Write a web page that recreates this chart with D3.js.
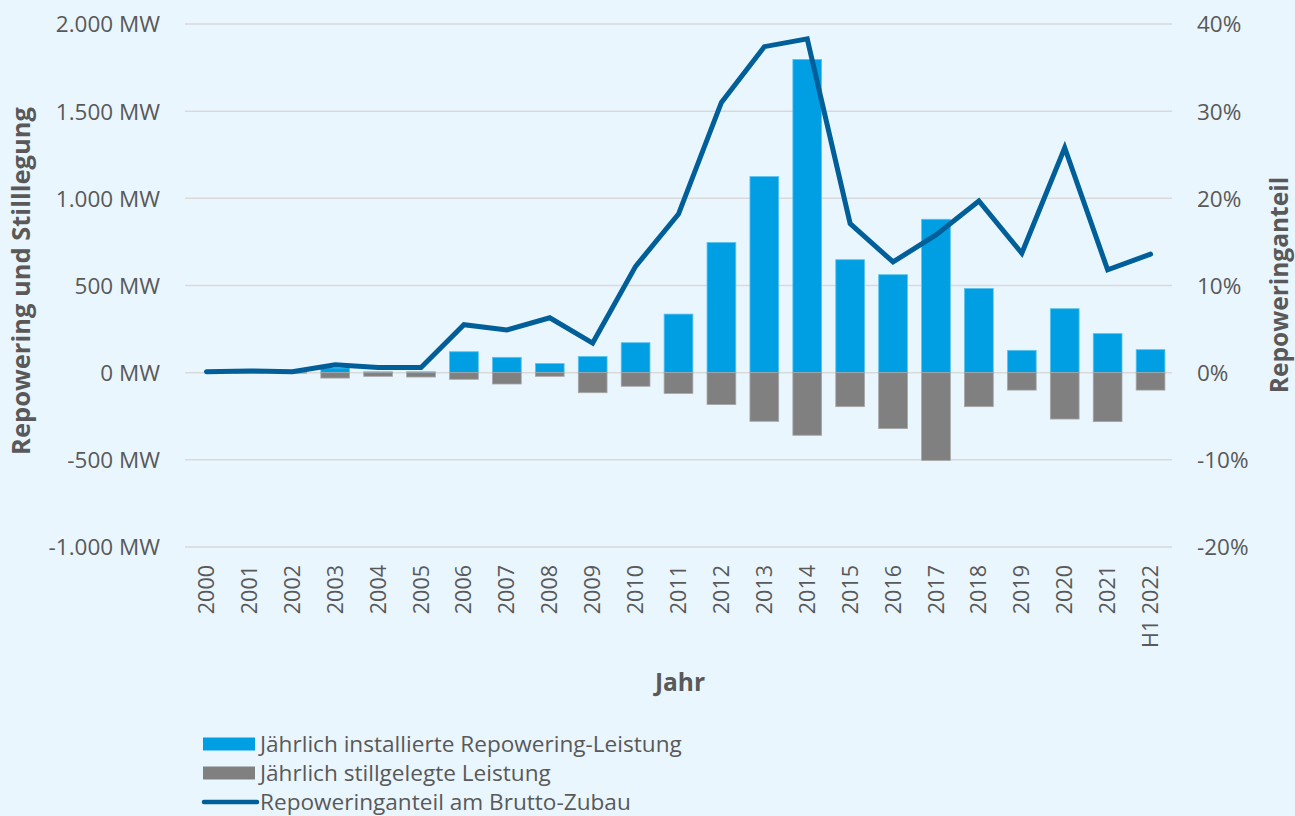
<!DOCTYPE html>
<html><head><meta charset="utf-8">
<script src="https://cdn.jsdelivr.net/npm/d3@7"></script>
<style>
html,body{margin:0;padding:0;background:#eaf6fe;}
svg{display:block;font-family:"Open Sans","Noto Sans",sans-serif;}
</style></head><body>
<svg id="c" width="1295" height="816"></svg>
<script>
const categories = ["2000","2001","2002","2003","2004","2005","2006","2007","2008","2009","2010","2011","2012","2013","2014","2015","2016","2017","2018","2019","2020","2021","H1 2022"];
const repowering = [0,0,0,27,5,5,120,88,52,93,172,336,747,1125,1797,648,562,880,483,128,367,224,132];
const decommissioned = [0,-3,-3,-31,-21,-25,-38,-65,-21,-115,-78,-119,-183,-279,-359,-195,-321,-503,-195,-100,-266,-281,-100];
const share = [0.1,0.2,0.1,0.9,0.6,0.6,5.5,4.9,6.3,3.4,12.2,18.2,31.0,37.4,38.3,17.1,12.7,15.8,19.7,13.7,25.8,11.8,13.6];
const leftTicks = [2000,1500,1000,500,0,-500,-1000];
const rightTicks = [40,30,20,10,0,-10,-20];

const svg = d3.select("#c");
const L = 185, R = 1172, T = 24, B = 547;
const x = d3.scaleBand().domain(categories).range([L, R]).paddingInner(0.33).paddingOuter(0.165);
const xc = d3.scaleBand().domain(categories).range([L, R]);
const y = d3.scaleLinear().domain([-1000, 2000]).range([B, T]);
const y2 = d3.scaleLinear().domain([-20, 40]).range([B, T]);
const txt = "#595959";
const fmt = v => d3.format(",")(v).replace(/,/g, ".").replace("\u2212", "-") + " MW";

// grid
svg.append("g").selectAll("line").data(leftTicks).join("line")
  .attr("x1", L).attr("x2", R).attr("y1", d => y(d)).attr("y2", d => y(d))
  .attr("stroke", "#d9d9d9").attr("stroke-width", 1.5);

// left axis
const ya = d3.axisLeft(y).tickValues(leftTicks).tickSize(0).tickPadding(0).tickFormat(fmt);
svg.append("g").attr("transform", `translate(160,0)`).call(ya)
  .call(g => g.select(".domain").remove())
  .selectAll("text").attr("fill", txt).attr("font-size", 22.5).attr("font-family", "Open Sans, Noto Sans, sans-serif").attr("dy", "0.35em");

// right axis
const ya2 = d3.axisRight(y2).tickValues(rightTicks).tickSize(0).tickPadding(0).tickFormat(d => String(d).replace("\u2212", "-") + "%");
svg.append("g").attr("transform", `translate(1197,0)`).call(ya2)
  .call(g => g.select(".domain").remove())
  .selectAll("text").attr("fill", txt).attr("font-size", 22.5).attr("font-family", "Open Sans, Noto Sans, sans-serif").attr("dy", "0.35em");

// bars
svg.append("g").selectAll("rect").data(categories).join("rect")
  .attr("x", d => x(d)).attr("width", x.bandwidth())
  .attr("y", (d, i) => y(repowering[i])).attr("height", (d, i) => y(0) - y(repowering[i]))
  .attr("fill", "#009fe3").attr("stroke", "#5cc3ef").attr("stroke-width", 0.8)
  .attr("stroke-opacity", (d, i) => repowering[i] > 0 ? 1 : 0);
svg.append("g").selectAll("rect").data(categories).join("rect")
  .attr("x", d => x(d)).attr("width", x.bandwidth())
  .attr("y", y(0)).attr("height", (d, i) => y(decommissioned[i]) - y(0))
  .attr("fill", "#808080").attr("stroke", "#a6a6a6").attr("stroke-width", 0.8)
  .attr("stroke-opacity", (d, i) => decommissioned[i] < 0 ? 1 : 0);

// line
const line = d3.line().x((d, i) => xc(categories[i]) + xc.bandwidth() / 2).y(d => y2(d));
svg.append("path").datum(share).attr("d", line).attr("fill", "none")
  .attr("stroke", "#005f99").attr("stroke-width", 5).attr("stroke-linejoin", "miter").attr("stroke-linecap", "round");

// x labels
svg.append("g").selectAll("text").data(categories).join("text")
  .attr("transform", d => `translate(${xc(d) + xc.bandwidth() / 2},565) rotate(-90)`)
  .attr("text-anchor", "end").attr("dy", "0.35em").attr("fill", txt).attr("font-size", 21.5)
  .text(d => d);

// axis titles
svg.append("text").attr("transform", "translate(30,281) rotate(-90)").attr("text-anchor", "middle")
  .attr("font-weight", "bold").attr("font-size", 25.5).attr("fill", txt).text("Repowering und Stilllegung");
svg.append("text").attr("transform", "translate(1288,285) rotate(-90)").attr("text-anchor", "middle")
  .attr("font-weight", "bold").attr("font-size", 24.5).attr("fill", txt).text("Repoweringanteil");
svg.append("text").attr("x", 680).attr("y", 691).attr("text-anchor", "middle")
  .attr("font-weight", "bold").attr("font-size", 24.5).attr("fill", txt).text("Jahr");

// legend
const legend = [
  {label: "Jährlich installierte Repowering-Leistung", type: "rect", color: "#009fe3"},
  {label: "Jährlich stillgelegte Leistung", type: "rect", color: "#808080"},
  {label: "Repoweringanteil am Brutto-Zubau", type: "line", color: "#005f99"}
];
const lg = svg.append("g").selectAll("g").data(legend).join("g")
  .attr("transform", (d, i) => `translate(203,${744 + i * 29})`);
lg.filter(d => d.type === "rect").append("rect").attr("x", 0).attr("y", -6.5).attr("width", 52).attr("height", 13).attr("fill", d => d.color);
lg.filter(d => d.type === "line").append("line").attr("x1", 1).attr("x2", 54).attr("y1", 0).attr("y2", 0)
  .attr("stroke", d => d.color).attr("stroke-width", 4.5).attr("stroke-linecap", "round");
lg.append("text").attr("x", 57).attr("y", 0).attr("dy", "0.35em").attr("font-size", 22.6).attr("fill", txt).text(d => d.label);
</script>
</body></html>
